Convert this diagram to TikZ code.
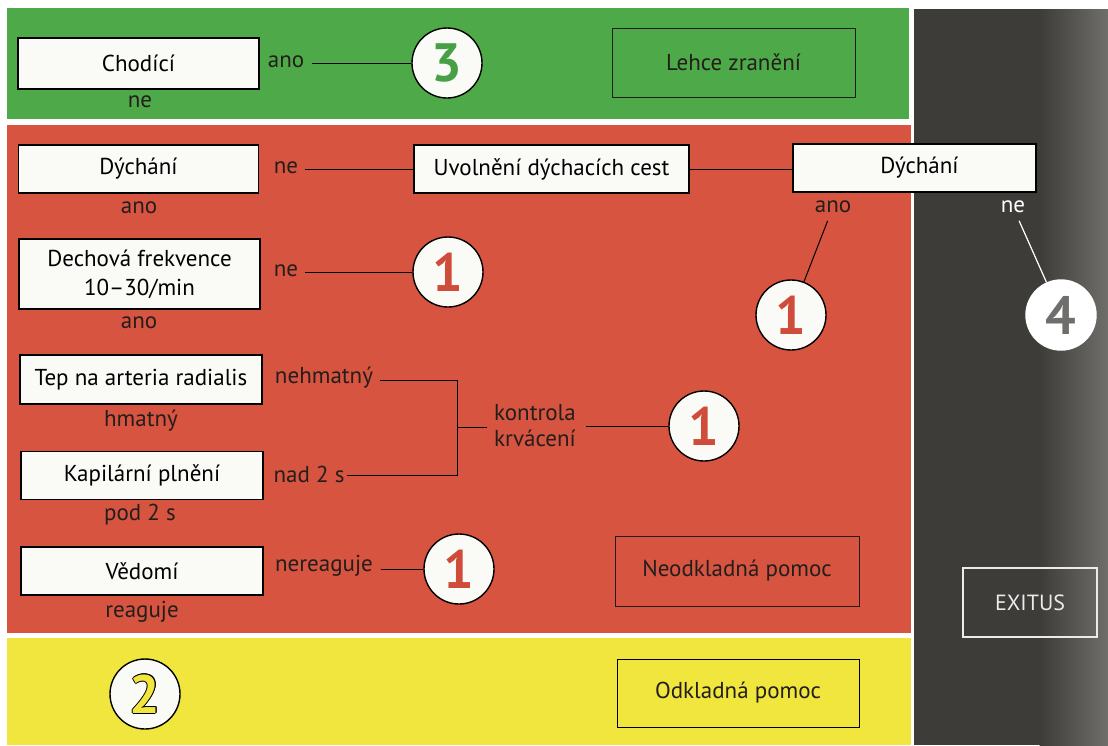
\documentclass[tikz,border=0pt]{standalone}
\usepackage{fontspec}
\setmainfont{PT Sans}
\definecolor{gbg}{RGB}{78,170,72}
\definecolor{rbg}{RGB}{214,84,64}
\definecolor{ybg}{RGB}{240,230,62}
\definecolor{dbg}{RGB}{62,60,57}
\definecolor{dbgr}{RGB}{112,110,106}
\definecolor{boxw}{RGB}{250,250,247}
\definecolor{txt}{RGB}{35,30,28}
\definecolor{dgreen}{RGB}{72,160,70}
\definecolor{dred}{RGB}{208,76,58}
\definecolor{dgray}{RGB}{110,110,108}
\newcommand\olnum[2]{%
  \setbox0=\hbox{#2}%
  \rlap{\color{black}\kern-0.8pt\copy0}%
  \rlap{\color{black}\kern0.8pt\copy0}%
  \rlap{\color{black}\raise0.8pt\copy0}%
  \rlap{\color{black}\lower0.8pt\copy0}%
  \rlap{\color{black}\kern-0.6pt\raise0.6pt\copy0}%
  \rlap{\color{black}\kern0.6pt\raise0.6pt\copy0}%
  \rlap{\color{black}\kern-0.6pt\lower0.6pt\copy0}%
  \rlap{\color{black}\kern0.6pt\lower0.6pt\copy0}%
  {\color{#1}\copy0}}
\tikzset{
  lbox/.style={draw=black, line width=1.2pt, fill=boxw, inner sep=0pt, align=center,
    text=black, font=\fontsize{23}{29}\selectfont},
  obox/.style={draw=txt, line width=1pt, inner sep=0pt, text=txt,
    font=\fontsize{23}{27}\selectfont},
  lab/.style={font=\fontsize{23}{26}\selectfont, text=txt, inner sep=2pt, align=center},
  numc/.style={circle, draw=black, line width=1.4pt, fill=boxw, minimum size=70pt,
    inner sep=0pt, font=\fontsize{54}{54}\selectfont\bfseries},
  conn/.style={draw=black, line width=1pt},
}
\begin{document}
\begin{tikzpicture}[x=1pt,y=-1pt]
\useasboundingbox (0,0) rectangle (1108,745);
\fill[white] (0,0) rectangle (1108,745);
% bands
\fill[gbg] (7,8) rectangle (909,119);
\fill[rbg] (7,125) rectangle (911,633);
\fill[ybg] (7,638) rectangle (911,745);
\fill[dbg] (914,9) rectangle (1040,745);
\shade[left color=dbg, right color=dbgr] (1039.5,9) rectangle (1108,745);

% green band
\node[lbox, minimum width=241pt, minimum height=51pt] (chod) at (138.5,63.5) {Chodící};
\node[lab] (chodNe) at (140,102) {ne};
\node[lab] (chodAno) at (286,62) {ano};
\node[numc, text=dgreen] (c3) at (447,63) {3};
\node[obox, minimum width=243pt, minimum height=69pt] (lehce) at (733.5,62.5) {Lehce zranění};
\draw[conn, shorten <=6pt] (chodAno.east |- c3) -- (c3);

% Dýchání row
\node[lbox, minimum width=240pt, minimum height=48pt] (dych1) at (138.5,169) {Dýchání};
\node[lab] (dych1Ano) at (139,208) {ano};
\node[lab] (dych1Ne) at (286,168) {ne};
\node[lbox, minimum width=275pt, minimum height=48pt] (uvol) at (551.5,169) {Uvolnění dýchacích cest};
\node[lbox, minimum width=243pt, minimum height=48pt] (dych2) at (914.5,168) {\hspace*{10pt}Dýchání};
\node[lab] (dych2Ano) at (833,207) {ano};
\node[numc, text=dred] (c1a) at (791,315) {1};
\node[lab, text=white] (dych2Ne) at (1013,207) {ne};
\node[numc, draw=white, fill=white, text=dgray] (c4) at (1061,315) {4};
\draw[conn, shorten <=5pt] (dych1Ne.east |- uvol) -- (uvol);
\draw[conn] (uvol) -- (uvol -| dych2.west);
\draw[conn, shorten <=6pt] (dych2Ano) -- (c1a);
\draw[conn, draw=white, line width=1.2pt, shorten <=6pt] (dych2Ne) -- (c4);

% Dechová frekvence
\node[lbox, minimum width=241pt, minimum height=70pt] (dech) at (139.5,274) {Dechová frekvence\\10–30/min};
\node[lab] (dechAno) at (139,323) {ano};
\node[lab] (dechNe) at (286,271) {ne};
\node[numc, text=dred] (c1b) at (448,272) {1};
\draw[conn, shorten <=5pt] (dechNe.east |- c1b) -- (c1b);

% Tep / Kapilární
\node[lbox, minimum width=242pt, minimum height=49pt] (tep) at (141,379.5) {Tep na arteria radialis};
\node[lab] (tepNe) at (324,378) {nehmatný};
\node[lab] (hmatny) at (141,421) {hmatný};
\node[lbox, minimum width=242pt, minimum height=48pt] (kap) at (142,475.5) {Kapilární plnění};
\node[lab] (kapNe) at (309,474) {nad 2 s};
\node[lab] (pod) at (140,515) {pod 2 s};
\coordinate (jt) at (457,380);
\coordinate (jm) at (457,427);
\coordinate (jb) at (457,475);
\node[lab, font=\fontsize{23}{26}\selectfont] (kontrola) at (535,426) {kontrola\\krvácení};
\node[numc, text=dred] (c1c) at (704,426) {1};
\draw[conn, shorten <=5pt] (tepNe.east |- jt) -- (jt) -- (jb) -- (kapNe.east |- jb);
\draw[conn, shorten >=5pt] (jm) -- (kontrola.west |- jm);
\draw[conn, shorten <=8pt] (kontrola.east |- c1c) -- (c1c);

% Vědomí
\node[lbox, minimum width=242pt, minimum height=48pt] (ved) at (142,571) {Vědomí};
\node[lab] (vedNe) at (324,566) {nereaguje};
\node[lab] (reaguje) at (142,612) {reaguje};
\node[numc, text=dred] (c1d) at (459,569) {1};
\draw[conn, shorten <=6pt] (vedNe.east |- c1d) -- (c1d);
\node[obox, minimum width=244pt, minimum height=70pt] (neod) at (737,571) {Neodkladná pomoc};

% yellow band
\node[numc] (c2) at (145,694) {\olnum{ybg}{2}};
\node[obox, draw=black, minimum width=242pt, minimum height=68pt] (odkl) at (738,693) {Odkladná pomoc};

% exitus
\node[draw=white!92!black, line width=2pt, minimum width=134pt, minimum height=69pt,
  inner sep=0pt, text=white!92!black, font=\fontsize{22}{26}\selectfont] (exitus) at (1030,602.5) {EXITUS};
\end{tikzpicture}
\end{document}
